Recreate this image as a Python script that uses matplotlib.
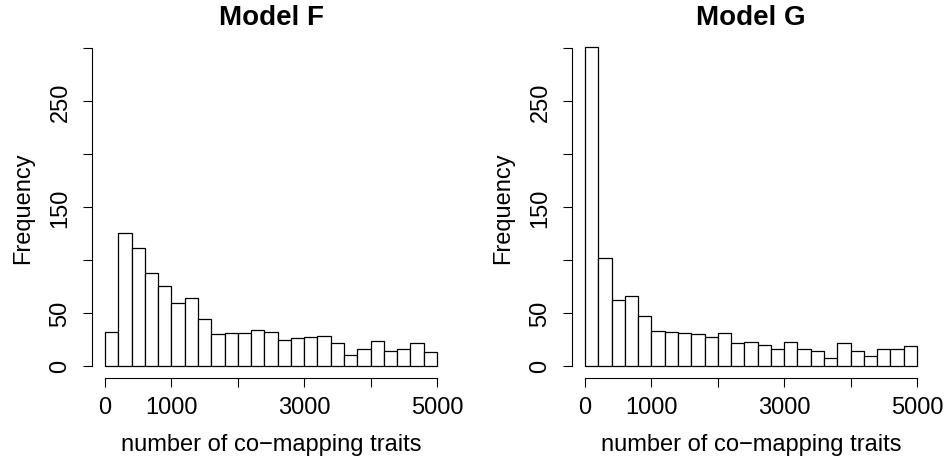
import numpy as np
import matplotlib
matplotlib.use("Agg")
import matplotlib.pyplot as plt

plt.rcParams['font.family'] = ['Liberation Sans', 'DejaVu Sans']

# bin edges shared by both histograms (width 200, 0..5000)
bin_edges = np.arange(0, 5001, 200)

# counts per bin
counts_f = [32, 125, 111, 88, 75, 59, 64, 44, 30, 31, 31, 34, 32,
            24, 26, 27, 28, 21, 10, 16, 23, 14, 16, 21, 13]
counts_g = [301, 102, 62, 66, 47, 33, 32, 31, 30, 27, 31, 21, 22,
            20, 16, 22, 16, 14, 7, 21, 14, 9, 16, 16, 19]

titles = ["Model F", "Model G"]
x_ticks = [0, 1000, 2000, 3000, 4000, 5000]
x_labels = ["0", "1000", "", "3000", "", "5000"]
y_ticks = [0, 50, 100, 150, 200, 250, 300]
y_labels = ["0", "50", "", "150", "", "250", ""]

fig = plt.figure(figsize=(9.49, 4.64), dpi=100)
W, H = 949, 464

for i, (counts, title) in enumerate(zip([counts_f, counts_g], titles)):
    left_px = 91.7 + 480 * i
    ax = fig.add_axes([left_px / W, (H - 379.4) / H, 358.6 / W, 342.8 / H])

    ax.bar(bin_edges[:-1], counts, width=np.diff(bin_edges), align='edge',
           facecolor='white', edgecolor='black', linewidth=0.9)

    ax.set_xlim(-200, 5200)
    ax.set_ylim(-12, 312)

    for s in ['top', 'right']:
        ax.spines[s].set_visible(False)
    ax.spines['left'].set_bounds(0, 300)
    ax.spines['bottom'].set_bounds(0, 5000)
    for s in ['left', 'bottom']:
        ax.spines[s].set_linewidth(0.8)

    ax.set_xticks(x_ticks)
    ax.set_xticklabels(x_labels, fontsize=17)
    ax.set_yticks(y_ticks)
    ax.set_yticklabels(y_labels, fontsize=17, rotation=90, va='center')
    ax.tick_params(axis='x', length=6.5, width=0.8, pad=6)
    ax.tick_params(axis='y', length=6.5, width=0.8, pad=8)

    ax.set_title(title, fontsize=20, fontweight='bold', pad=8)
    ax.set_xlabel("number of co\u2212mapping traits", fontsize=17)
    ax.xaxis.set_label_coords(0.5, -0.16)
    ax.set_ylabel("Frequency", fontsize=17, va='center')
    ax.yaxis.set_label_coords(-0.192, 0.5)

fig.savefig("out.png", dpi=100)
